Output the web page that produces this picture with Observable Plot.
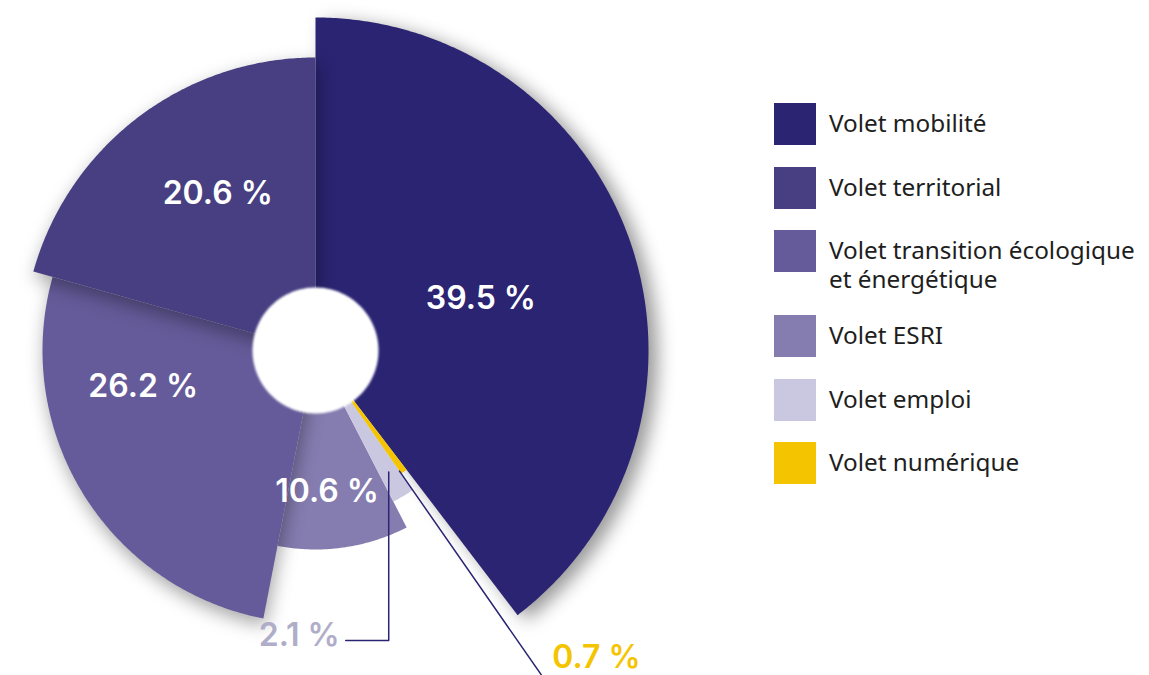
<!DOCTYPE html>
<html><head><meta charset="utf-8">
<script src="https://cdn.jsdelivr.net/npm/d3@7"></script>
<script src="https://cdn.jsdelivr.net/npm/@observablehq/plot@0.6"></script>
<style>
body{margin:0;background:#fff;}
#wrap{position:relative;width:1149px;height:675px;overflow:hidden;}
#chart{position:absolute;left:0;top:0;}
#legend{position:absolute;left:774px;top:103px;font-family:"Noto Sans",sans-serif;font-size:24.3px;color:#1e1e1e;}
.row{position:absolute;left:0;display:flex;align-items:flex-start;}
.sw{width:42px;height:42px;flex:none;}
.lab{margin-left:13px;line-height:29px;margin-top:5px;white-space:nowrap;}
</style></head><body>
<div id="wrap"><div id="chart"></div><div id="legend"></div></div>
<script>
// ---- data ----
const categories = ["Volet mobilité","Volet numérique","Volet emploi","Volet ESRI","Volet transition écologique et énergétique","Volet territorial"];
const shares = [39.5, 0.7, 2.1, 10.6, 26.2, 20.6];
const radii = [333, 150, 170, 199, 273, 293];
const holeRadius = 63;
const labelTexts = ["39.5 %","0.7 %","2.1 %","10.6 %","26.2 %","20.6 %"];
// ---- styles ----
const colors = ["#2a2472","#f5c400","#cac7e0","#857cb0","#655b9a","#473f82"];
const labelT = [0.51, 0.5, 0.5, 0.59, 0.71, 0.57];   // position along slice angle
const labelR = [0.52, 0.5, 0.5, 0.71, 0.645, 0.63];  // fraction of slice radius
const legendOrder = [0, 5, 4, 3, 2, 1];
const legendTops = [0, 64, 127, 212, 276, 339];
const drawOrder = [0, 3, 2, 1, 4, 5];
const shadowFilter = ["sh", null, null, null, "sh3", "sh3"];
const cx = 315, cy = 350;

const arcs = d3.pie().sort(null).value(d => d)(shares);
const pt = (a, r) => [r * Math.sin(a), -r * Math.cos(a)];
function wedge(a0, a1, r) {
  const n = Math.max(2, Math.ceil((a1 - a0) / (Math.PI / 360)));
  const ring = [[0, 0]];
  for (let k = 0; k <= n; k++) ring.push(pt(a0 + (a1 - a0) * k / n, r));
  ring.push([0, 0]);
  return ring;
}
const features = drawOrder.map(i => ({
  type: "Feature",
  properties: {name: categories[i], color: colors[i]},
  geometry: {type: "Polygon", coordinates: [wedge(arcs[i].startAngle, arcs[i].endAngle, radii[i])]}
}));
const holeRing = d3.range(0, 361, 2).map(d => pt(d * Math.PI / 180, holeRadius));
const hole = {type: "Feature", properties: {}, geometry: {type: "Polygon", coordinates: [holeRing]}};

const inner = [0, 3, 4, 5].map(i => {
  const a = arcs[i].startAngle + (arcs[i].endAngle - arcs[i].startAngle) * labelT[i];
  const [x, y] = pt(a, radii[i] * labelR[i]);
  return {x, y, text: labelTexts[i]};
});

// leader for "Volet emploi" (2.1 %)
const aE = (arcs[2].startAngle + arcs[2].endAngle) / 2;
const [ex, ey] = pt(aE, radii[2] * 0.835);
const emploiLine = [[ex, ey], [ex, 290], [ex - 43, 290]];
// leader for "Volet numérique" (0.7 %)
const aN = arcs[1].endAngle;
const numLine = [pt(aN, radii[1] - 3), pt(aN, 395)];

const plot = Plot.plot({
  width: 700, height: 675,
  projection: d3.geoIdentity().translate([cx, cy]),
  marks: [
    Plot.geo(features, {fill: d => d.properties.color}),
    Plot.geo([hole], {fill: "#ffffff"}),
    Plot.line(emploiLine, {x: d => d[0], y: d => d[1], stroke: "#2a2472", strokeWidth: 1.5, curve: "linear"}),
    Plot.line(numLine, {x: d => d[0], y: d => d[1], stroke: "#2a2472", strokeWidth: 1.5, curve: "linear"}),
    Plot.text(inner, {x: "x", y: "y", text: "text", fill: "white", fontSize: 32, fontWeight: 600, fontFamily: "Inter", textAnchor: "middle", lineAnchor: "middle"}),
    Plot.text([{x: ex - 49, y: 285, text: labelTexts[2]}], {x: "x", y: "y", text: "text", fill: "#b0adc9", fontSize: 32, fontWeight: 600, fontFamily: "Inter", textAnchor: "end", lineAnchor: "middle"}),
    Plot.text([{x: numLine[1][0] + 11, y: numLine[1][1] - 17, text: labelTexts[1]}], {x: "x", y: "y", text: "text", fill: "#f5c400", fontSize: 32, fontWeight: 600, fontFamily: "Inter", textAnchor: "start", lineAnchor: "middle"})
  ]
});
document.getElementById("chart").appendChild(plot);

// soft shadows
const svg = plot.tagName.toLowerCase() === "svg" ? plot : plot.querySelector("svg");
const defs = document.createElementNS("http://www.w3.org/2000/svg", "defs");
defs.innerHTML = `<filter id="sh" x="-40%" y="-40%" width="180%" height="180%" color-interpolation-filters="sRGB"><feDropShadow dx="9" dy="5" stdDeviation="9" flood-color="#000" flood-opacity="0.4"/></filter>
<filter id="sh3" x="-40%" y="-40%" width="180%" height="180%" color-interpolation-filters="sRGB"><feDropShadow dx="2" dy="7" stdDeviation="9" flood-color="#000" flood-opacity="0.35"/></filter>
<filter id="sh2" x="-30%" y="-30%" width="160%" height="160%"><feGaussianBlur stdDeviation="1.2"/></filter>`;
svg.insertBefore(defs, svg.firstChild);
svg.querySelectorAll("path").forEach(p => {
  const f = (p.getAttribute("fill") || "").toLowerCase();
  const i = colors.indexOf(f);
  if (i >= 0 && shadowFilter[i]) p.setAttribute("filter", `url(#${shadowFilter[i]})`);
});
svg.querySelectorAll("g").forEach(g => {
  const f = (g.getAttribute("fill") || "").toLowerCase();
  if (f === "#ffffff") g.setAttribute("filter", "url(#sh2)");
});

// legend
const lg = document.getElementById("legend");
legendOrder.forEach((i, k) => {
  const row = document.createElement("div");
  row.className = "row";
  row.style.top = legendTops[k] + "px";
  const name = categories[i].replace("écologique et", "écologique<br>et");
  row.innerHTML = `<div class="sw" style="background:${colors[i]}"></div><div class="lab">${name}</div>`;
  lg.appendChild(row);
});
</script>
</body></html>
